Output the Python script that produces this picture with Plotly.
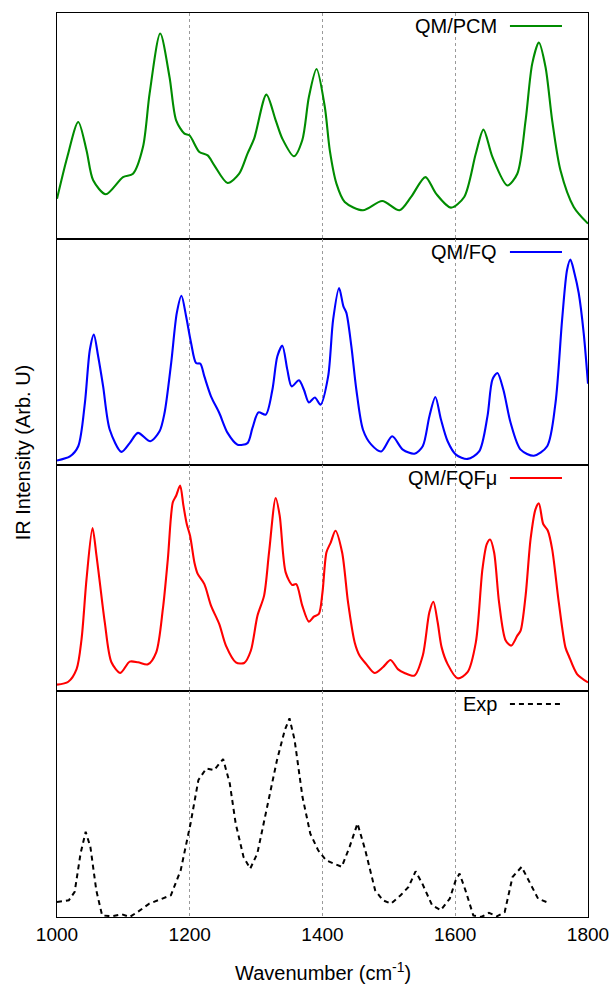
import plotly.graph_objects as go
from plotly.subplots import make_subplots

# ---- data (wavenumber in cm-1, intensity in arbitrary units, 0-100 per panel) ----
pcm_x = [1000, 1015.5, 1032, 1044.5, 1054.5, 1073.5, 1099.5, 1114.5, 1129.5, 1139.5, 1155.5,
         1169.5, 1179.5, 1192, 1199.5, 1214.5, 1227, 1237, 1257, 1274.5, 1287, 1297, 1315.5,
         1329.5, 1339.5, 1357, 1369.5, 1379.5, 1391, 1403.5, 1411, 1421, 1433.5, 1461, 1490,
         1516, 1533.5, 1555, 1571, 1593.5, 1613.5, 1631, 1642.5, 1656, 1678.5, 1693.5, 1706,
         1716, 1726, 1736, 1746, 1758.5, 1778.5, 1800]
pcm_y = [17.8, 36.3, 51.8, 39.2, 26.0, 19.8, 27.4, 28.9, 40.7, 64.3, 90.9,
         71.7, 52.5, 46.6, 45.9, 38.5, 37.0, 32.6, 24.8, 28.9, 37.8, 44.4, 63.9,
         52.5, 44.4, 36.6, 43.7, 62.8, 75.2, 58.4, 39.2, 24.5, 16.4, 12.7, 16.8,
         12.7, 18.6, 27.4, 20.1, 13.9, 18.6, 37.8, 48.4, 36.3, 23.7, 28.9, 52.5,
         77.6, 86.9, 76.1, 52.5, 30.4, 14.2, 6.8]

fq_x = [1000, 1019.5, 1032, 1042, 1049.5, 1055.5, 1062, 1069.5, 1079.5, 1097, 1109.5, 1122,
        1140.5, 1154.5, 1162, 1172, 1180.5, 1187.5, 1194.5, 1202, 1209.5, 1216, 1222, 1232,
        1244.5, 1257, 1272, 1287, 1294.5, 1303.5, 1314.5, 1324.5, 1332, 1339.5, 1347, 1353.5,
        1364.5, 1372, 1379.5, 1388.5, 1397, 1408.5, 1416, 1425, 1431.5, 1436, 1443.5,
        1451, 1461, 1473.5, 1488.5, 1505, 1521, 1538.5, 1551, 1561, 1570, 1578.5, 1588.5,
        1601, 1618.5, 1636, 1648.5, 1656, 1663.5, 1672.5, 1683.5, 1698.5, 1718.5, 1738.5,
        1751, 1761, 1768.5, 1773.5, 1779.5, 1786, 1793.5, 1800]
fq_y = [2.0, 3.8, 8.3, 27.4, 51.0, 57.7, 48.1, 34.8, 15.6, 5.8, 9.7, 14.2,
        10.5, 14.9, 23.0, 45.1, 67.3, 74.9, 65.8, 54.0, 45.1, 44.8, 39.2, 30.4,
        23.0, 14.2, 9.0, 9.7, 16.4, 23.3, 22.3, 33.3, 48.1, 52.8, 42.2, 34.8,
        37.5, 33.3, 27.7, 29.9, 26.7, 39.2, 64.3, 78.3, 70.2, 67.3, 52.5,
        33.3, 15.6, 9.0, 6.0, 12.7, 6.8, 5.0, 8.3, 21.5, 30.1, 20.1, 10.5,
        4.6, 2.7, 6.0, 21.5, 37.8, 40.7, 33.3, 18.6, 6.8, 4.1, 8.3,
        27.4, 64.3, 86.4, 90.9, 85.0, 76.1, 58.4, 36.0]

fqfmu_x = [1000, 1017, 1029.5, 1037, 1044.5, 1053.5, 1059.5, 1064.5, 1072, 1082, 1095.5,
           1109.5, 1122, 1137, 1149.5, 1159.5, 1167, 1174.5, 1179.5, 1185.5, 1190.5, 1195.5,
           1200.5, 1207, 1212, 1222, 1232, 1244.5, 1254.5, 1269.5, 1282, 1292, 1302, 1312,
           1319.5, 1329.5, 1335.5, 1344.5, 1354.5, 1360.5, 1369.5, 1379.5, 1387, 1394.5,
           1400, 1406, 1412.5, 1419.5, 1429.5, 1438.5, 1448.5, 1456, 1466, 1478.5, 1491,
           1502.5, 1513.5, 1523.5, 1538.5, 1551, 1561, 1567, 1573.5, 1579.5, 1588.5, 1603.5,
           1618.5, 1631, 1641, 1647.5, 1652.5, 1658.5, 1666, 1676, 1684.5, 1693.5, 1698.5,
           1706, 1713.5, 1721, 1726, 1732.5, 1739.5, 1746, 1756, 1766, 1771, 1783.5, 1800]
fqfmu_y = [2.8, 4.1, 9.7, 23.0, 49.6, 72.1, 59.9, 48.1, 30.4, 12.7, 8.0,
           13.0, 12.7, 11.8, 17.1, 36.3, 58.4, 83.5, 86.4, 90.9, 82.0, 73.9,
           68.7, 56.9, 51.8, 47.3, 37.8, 29.6, 20.1, 12.7, 12.4, 17.8, 33.3, 42.2,
           61.4, 85.4, 77.6, 52.5, 46.9, 47.3, 37.8, 30.7, 32.9, 34.1,
           43.7, 61.4, 65.8, 70.9, 61.4, 39.2, 21.5, 15.6, 11.9, 8.0, 10.5,
           13.7, 9.7, 8.0, 6.8, 15.6, 34.8, 39.5, 30.4, 19.3, 11.9, 5.6,
           8.3, 21.5, 54.0, 65.0, 67.0, 61.4, 39.2, 22.3, 20.1, 24.5, 26.7,
           42.2, 67.3, 80.5, 83.0, 73.9, 70.9, 62.8, 39.2, 19.3, 15.6, 7.5, 3.8]

exp_x = [1000, 1017.8, 1026.6, 1035.5, 1043.2, 1050.3, 1059.2, 1068, 1082.8, 1097.6, 1109.5,
         1121.3, 1139, 1153.8, 1171.6, 1186.4, 1201.2, 1213, 1224.8, 1236.7, 1250.3, 1260.3,
         1269.2, 1281, 1291.1, 1301.8, 1316.6, 1331.4, 1343.2, 1350.3, 1358, 1369.8, 1381.6,
         1393.5, 1405.3, 1417.2, 1429, 1440.8, 1452.7, 1464.5, 1479.3, 1491.1, 1503, 1517.7,
         1529.6, 1540.2, 1550.3, 1565.1, 1578.1, 1591.7, 1600.6, 1606.5, 1615.4, 1627.2,
         1639, 1650.8, 1662.7, 1674.5, 1686.3, 1700, 1713, 1724.8, 1739.6]
exp_y = [6.6, 7.4, 11.1, 28.1, 37.7, 31.0, 11.8, 0.7, 0.3, 1.2, 0.0,
         2.2, 5.9, 7.7, 9.6, 20.7, 41.4, 60.6, 65.7, 65.0, 69.9, 59.1,
         41.4, 26.6, 21.4, 28.1, 48.7, 69.4, 82.7, 87.9, 78.3, 53.2, 36.9,
         29.5, 25.1, 23.6, 22.2, 31.0, 41.4, 29.5, 11.8, 7.4, 5.9, 9.6,
         13.3, 20.2, 14.8, 5.2, 3.0, 8.1, 16.2, 19.2, 11.8, 0.7,
         0.0, 1.8, 0.3, 2.2, 17.7, 22.2, 14.8, 8.1, 6.4]

series_names = ["QM/PCM", "QM/FQ", "QM/FQF\u03bc", "Exp"]
series_colors = ["#008c00", "#0000ff", "#ff0000", "#000000"]
x_ticks = [1000, 1200, 1400, 1600, 1800]

FONT = "Liberation Sans, Arial, Helvetica, sans-serif"

fig = make_subplots(rows=4, cols=1, shared_xaxes=True, vertical_spacing=0)

data = [(pcm_x, pcm_y), (fq_x, fq_y), (fqfmu_x, fqfmu_y), (exp_x, exp_y)]
for i, (xs, ys) in enumerate(data):
    if i < 3:
        line = dict(color=series_colors[i], width=2.1, shape="spline", smoothing=0.8)
    else:
        line = dict(color=series_colors[i], width=2, dash="5px,4px")
    fig.add_trace(go.Scatter(x=xs, y=ys, mode="lines", line=line,
                             name=series_names[i], showlegend=False),
                  row=i + 1, col=1)

for r in range(1, 5):
    fig.update_xaxes(range=[1000, 1800], tickvals=x_ticks, showgrid=True,
                     gridcolor="#9a9a9a", griddash="dot", gridwidth=1,
                     showline=True, mirror=True, linecolor="black", linewidth=1.1,
                     zeroline=False, ticks="", automargin=False, row=r, col=1)
    fig.update_yaxes(range=[0, 100], showticklabels=False, showgrid=False,
                     zeroline=False, showline=True, mirror=True, automargin=False,
                     linecolor="black", linewidth=1.1, ticks="", row=r, col=1)
fig.update_xaxes(showticklabels=True, tickfont=dict(size=19, color="black", family=FONT),
                 row=4, col=1)

# legends (gnuplot style: text then line sample), one per panel
annotations = []
shapes = []
for i in range(4):
    yref = "y" if i == 0 else f"y{i + 1}"
    annotations.append(dict(text=series_names[i], xref="paper", yref=f"{yref} domain",
                            x=0.833, y=0.942, xanchor="right", yanchor="middle",
                            showarrow=False, font=dict(size=20, color="black", family=FONT)))
    shapes.append(dict(type="line", xref="paper", yref=f"{yref} domain",
                       x0=0.853, x1=0.951, y0=0.942, y1=0.942,
                       line=dict(color=series_colors[i], width=2,
                                 dash="solid" if i < 3 else "5px,4px")))

annotations.append(dict(text="IR Intensity (Arb. U)", xref="paper", yref="paper",
                        x=-0.064, y=0.514, xanchor="center", yanchor="middle",
                        textangle=-90, showarrow=False,
                        font=dict(size=20, color="black", family=FONT)))
annotations.append(dict(text="Wavenumber (cm<sup>-1</sup>)", xref="paper", yref="paper",
                        x=0.5, y=-0.06, xanchor="center", yanchor="middle",
                        showarrow=False, font=dict(size=20, color="black", family=FONT)))

fig.update_layout(width=614, height=985, margin=dict(l=57, r=26, t=13, b=68, autoexpand=False),
                  paper_bgcolor="white", plot_bgcolor="white",
                  annotations=annotations, shapes=shapes,
                  font=dict(family=FONT, color="black"))

fig.write_html("out.html")
